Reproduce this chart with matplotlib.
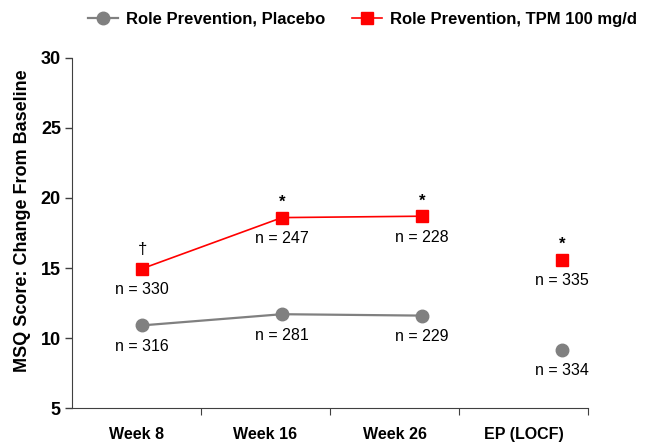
import matplotlib
matplotlib.use("Agg")
import matplotlib.pyplot as plt
from matplotlib.lines import Line2D

plt.rcParams['font.family'] = ['Liberation Sans', 'DejaVu Sans']

categories = ["Week 8", "Week 16", "Week 26", "EP (LOCF)"]
placebo = [10.9, 11.7, 11.6, 9.15]
tpm = [14.95, 18.6, 18.7, 15.6]
placebo_n = ["n = 316", "n = 281", "n = 229", "n = 334"]
tpm_n = ["n = 330", "n = 247", "n = 228", "n = 335"]
tpm_sig = ["\u2020", "*", "*", "*"]
yticks = [5, 10, 15, 20, 25, 30]

GRAY = "#808080"
RED = "#FF0000"

fig = plt.figure(figsize=(6.47, 4.42), dpi=100)
ax = fig.add_axes([0.1113, 0.0769, 0.7975, 0.7919])

idx = list(range(len(categories)))
ax.plot(idx[:3], placebo[:3], color=GRAY, lw=1.6, marker='o', ms=9, mec=GRAY, mfc=GRAY, zorder=3)
ax.plot(idx[3:], placebo[3:], color=GRAY, lw=0, marker='o', ms=9, mec=GRAY, mfc=GRAY, zorder=3)
ax.plot(idx[:3], tpm[:3], color=RED, lw=1.2, marker='s', ms=9, mec=RED, mfc=RED, zorder=3)
ax.plot(idx[3:], tpm[3:], color=RED, lw=0, marker='s', ms=9, mec=RED, mfc=RED, zorder=3)

for i in idx:
    ax.annotate(placebo_n[i], (i, placebo[i]), xytext=(0, -21), textcoords='offset pixels',
                ha='center', va='center', fontsize=11.5)
    ax.annotate(tpm_n[i], (i, tpm[i]), xytext=(0, -21), textcoords='offset pixels',
                ha='center', va='center', fontsize=11.5)
    if tpm_sig[i] == "\u2020":
        ax.annotate(tpm_sig[i], (i, tpm[i]), xytext=(0, 19), textcoords='offset pixels',
                    ha='center', va='center', fontsize=12)
    else:
        ax.annotate(tpm_sig[i], (i, tpm[i]), xytext=(0, 15), textcoords='offset pixels',
                    ha='center', va='center', fontsize=12, fontweight='bold')

ax.set_xlim(-0.5, 3.186)
ax.set_ylim(5, 30)
ax.set_yticks(yticks)
ax.set_yticklabels([str(v) for v in yticks], fontsize=13, fontweight='bold')
ax.tick_params(axis='y', direction='out', length=5, width=1, color='#404040', pad=3)
ax.set_xticks([])
ax.spines['top'].set_visible(False)
ax.spines['right'].set_visible(False)
ax.spines['bottom'].set_visible(False)
ax.spines['left'].set_color('#404040')
ax.set_ylabel("MSQ Score: Change From Baseline", fontsize=13, fontweight='bold')
ax.yaxis.set_label_coords(-0.079, 0.535)

cx = ax.twiny()
cx.set_xlim(0, len(categories))
cx.xaxis.set_ticks_position('bottom')
cx.xaxis.set_label_position('bottom')
for s in ['top', 'right', 'left']:
    cx.spines[s].set_visible(False)
cx.spines['bottom'].set_color('#404040')
cx.set_xticks([1, 2, 3, 4])
cx.set_xticklabels([])
cx.tick_params(axis='x', which='major', direction='out', length=5, color='#404040')
cx.set_xticks([i + 0.5 for i in idx], minor=True)
cx.set_xticklabels(categories, minor=True, fontsize=11.5, fontweight='bold')
cx.tick_params(axis='x', which='minor', length=0, pad=14)

handles = [
    Line2D([0], [0], color=GRAY, lw=1.6, marker='o', ms=9, mfc=GRAY, mec=GRAY),
    Line2D([0], [0], color=RED, lw=1.2, marker='s', ms=9, mfc=RED, mec=RED),
]
fig.legend(handles, ["Role Prevention, Placebo", "Role Prevention, TPM 100 mg/d"],
           loc='center', bbox_to_anchor=(0.56, 0.957), ncol=2, frameon=False,
           prop={'weight': 'bold', 'size': 12}, handlelength=1.8, handletextpad=0.5,
           columnspacing=1.6)

fig.savefig("out.png", dpi=100)
